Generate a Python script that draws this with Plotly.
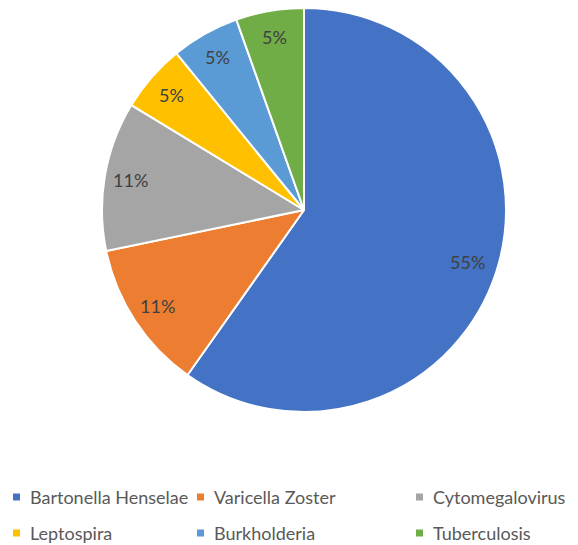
import math
import plotly.graph_objects as go

labels = ["Bartonella Henselae", "Varicella Zoster", "Cytomegalovirus", "Leptospira", "Burkholderia", "Tuberculosis"]
values = [55, 11, 11, 5, 5, 5]
colors = ["#4472C4", "#ED7D31", "#A5A5A5", "#FFC000", "#5B9BD5", "#70AD47"]

# the page body adds an 8px margin, so the figure is 8px smaller and all
# layout positions are shifted by 8px
OFF = 8
W, H = 578 - OFF, 545 - OFF
cx, cy, R = 304 - OFF, 210 - OFF, 202  # pie centre / radius in pixels (layout)

dom_y0 = max(0.0, (H - cy - R) / H)
dom_y1 = min(1.0, (H - cy + R) / H)

fig = go.Figure(go.Pie(
    labels=labels,
    values=values,
    sort=False,
    direction="clockwise",
    rotation=0,
    marker=dict(colors=colors, line=dict(color="white", width=2)),
    textinfo="none",
    domain=dict(x=[(cx - R) / W, (cx + R) / W], y=[dom_y0, dom_y1]),
    hoverinfo="label+value",
    showlegend=False,
))

# data labels, placed along each slice's mid-angle
total = sum(values)
cum = 0
for v in values:
    mid = (cum + v / 2) / total * 2 * math.pi
    cum += v
    r = 0.85 * R if v / total > 0.5 else 0.87 * R
    px = cx + r * math.sin(mid)
    py = cy - r * math.cos(mid)
    fig.add_annotation(
        x=px / W, y=1 - py / H, xref="paper", yref="paper",
        text=f"{v}%", showarrow=False, xanchor="center", yanchor="middle",
        font=dict(family="Lato", size=18, color="#404040"),
    )

# legend (3 columns x 2 rows)
col_x = [13 - OFF, 197 - OFF, 416 - OFF]
row_y = [497 - OFF, 533 - OFF]
sq = 7
for i, (lab, col) in enumerate(zip(labels, colors)):
    x0 = col_x[i % 3]
    y0 = row_y[i // 3]
    fig.add_shape(
        type="rect", xref="paper", yref="paper",
        x0=x0 / W, x1=(x0 + sq) / W, y0=1 - (y0 - sq / 2) / H, y1=1 - (y0 + sq / 2) / H,
        fillcolor=col, line=dict(width=0),
    )
    fig.add_annotation(
        x=(x0 + sq + 8) / W, y=1 - y0 / H, xref="paper", yref="paper",
        text=lab, showarrow=False, xanchor="left", yanchor="middle",
        font=dict(family="Lato", size=18, color="#595959"),
    )

fig.update_layout(
    width=W, height=H,
    margin=dict(l=0, r=0, t=0, b=0, autoexpand=False),
    paper_bgcolor="white",
    plot_bgcolor="white",
    showlegend=False,
)

fig.write_html("out.html")
